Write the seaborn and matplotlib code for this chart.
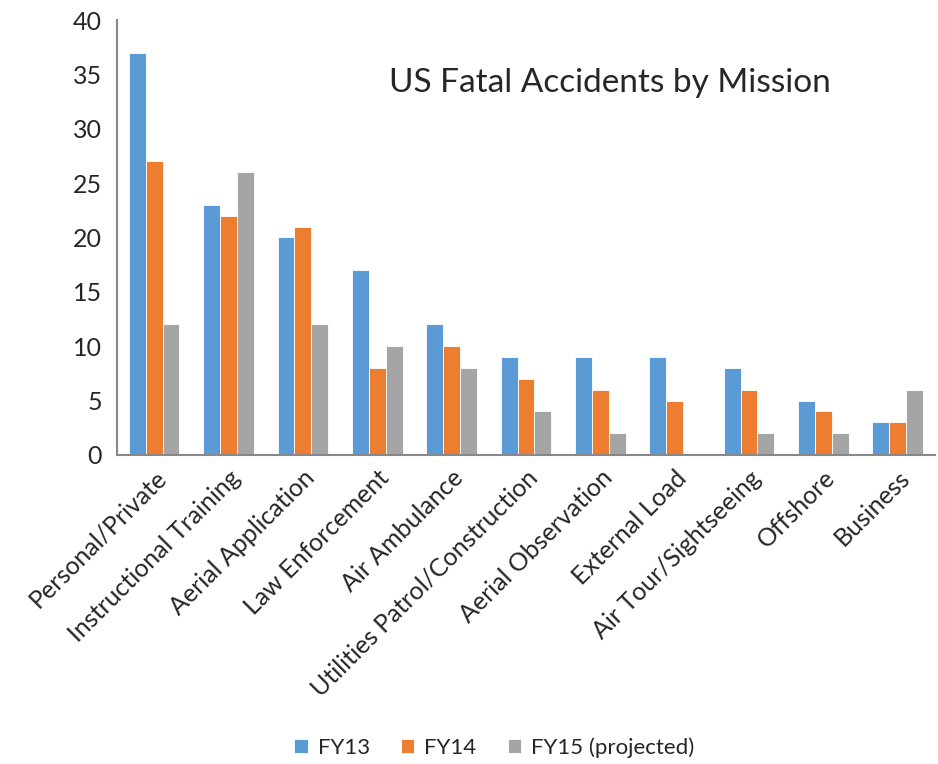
import numpy as np
import pandas as pd
import seaborn as sns
import matplotlib.pyplot as plt

missions = ["Personal/Private", "Instructional Training", "Aerial Application",
            "Law Enforcement", "Air Ambulance", "Utilities Patrol/Construction",
            "Aerial Observation", "External Load", "Air Tour/Sightseeing",
            "Offshore", "Business"]
fy13 = [37, 23, 20, 17, 12, 9, 9, 9, 8, 5, 3]
fy14 = [27, 22, 21, 8, 10, 7, 6, 5, 6, 4, 3]
fy15 = [12, 26, 12, 10, 8, 4, 2, 0, 2, 2, 6]
series = ["FY13", "FY14", "FY15 (projected)"]
colors = ["#5B9BD5", "#ED7D31", "#A5A5A5"]

df = pd.DataFrame({"Mission": missions * 3,
                   "Series": np.repeat(series, len(missions)),
                   "Count": fy13 + fy14 + fy15})

sns.set_style("white")
plt.rcParams["font.family"] = ["Lato", "DejaVu Sans"]

fig = plt.figure(figsize=(9.38, 7.64), dpi=100)
ax = fig.add_axes([0.1247, 0.4045, 0.872, 0.5693])

sns.barplot(data=df, x="Mission", y="Count", hue="Series", palette=colors,
            saturation=1, width=0.68, edgecolor="white", linewidth=0.6,
            ax=ax, legend=True)

ax.set_ylim(0, 40)
ax.set_yticks(range(0, 41, 5))
ax.set_xlim(-0.5, len(missions) - 0.5)
ax.set_xticks(range(len(missions)))
ax.set_xticklabels(missions, rotation=45, ha="right", rotation_mode="anchor", fontsize=18)
ax.set_xticks(np.arange(-0.5, len(missions), 1), minor=True)
ax.tick_params(axis="x", which="major", length=0, pad=8)
ax.tick_params(axis="x", which="minor", length=7, color="#888888", width=1.2, direction="out")
ax.tick_params(axis="y", length=7, color="#888888", width=1.2, direction="out", labelsize=18, pad=4)
ax.set_xlabel("")
ax.set_ylabel("")

sns.despine(ax=ax)
for s in ["left", "bottom"]:
    ax.spines[s].set_color("#888888")
    ax.spines[s].set_linewidth(1.5)

ax.text(0.603, 0.855, "US Fatal Accidents by Mission", transform=ax.transAxes,
        ha="center", va="center", fontsize=24)

handles, labels = ax.get_legend_handles_labels()
ax.legend_.remove()
fig.legend(handles, labels, loc="center", bbox_to_anchor=(0.527, 0.021), ncol=3,
           frameon=False, fontsize=16, handlelength=0.6, handleheight=0.6,
           handletextpad=0.45, columnspacing=1.4)

fig.savefig("out.png", dpi=100)
